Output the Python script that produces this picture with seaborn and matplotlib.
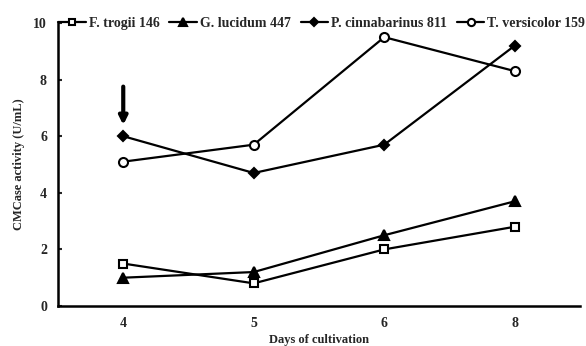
import matplotlib
matplotlib.use("Agg")
import matplotlib.pyplot as plt
import seaborn as sns
import pandas as pd

days = ["4", "5", "6", "8"]
strains = ["F. trogii 146", "G. lucidum 447", "P. cinnabarinus 811", "T. versicolor 159"]
f_trogii = [1.5, 0.8, 2.0, 2.8]
g_lucidum = [1.0, 1.2, 2.5, 3.7]
p_cinnabarinus = [6.0, 4.7, 5.7, 9.2]
t_versicolor = [5.1, 5.7, 9.5, 8.3]
y_ticks = [0, 2, 4, 6, 8, 10]

series = [f_trogii, g_lucidum, p_cinnabarinus, t_versicolor]
rows = []
for name, vals in zip(strains, series):
    for d, v in zip(days, vals):
        rows.append({"Day": d, "Activity": v, "Strain": name})
df = pd.DataFrame(rows)

sns.set_style("white")
plt.rcParams["font.family"] = ["Liberation Serif", "DejaVu Serif"]
plt.rcParams["font.weight"] = "bold"

fig = plt.figure(figsize=(5.86, 3.46), dpi=100)
ax = fig.add_axes([58/586, 1-306/346, (580-58)/586, (306-23)/346])

markers = {"F. trogii 146": "s", "G. lucidum 447": "^",
           "P. cinnabarinus 811": "D", "T. versicolor 159": "o"}
mfc = {"F. trogii 146": "white", "G. lucidum 447": "black",
       "P. cinnabarinus 811": "black", "T. versicolor 159": "white"}
msz = {"F. trogii 146": 6, "G. lucidum 447": 7,
       "P. cinnabarinus 811": 5.5, "T. versicolor 159": 6.5}

for name in strains:
    sub = df[df["Strain"] == name]
    sns.lineplot(data=sub, x="Day", y="Activity", ax=ax, color="black",
                 linewidth=1.6, marker=markers[name], markersize=msz[name],
                 markerfacecolor=mfc[name], markeredgecolor="black",
                 markeredgewidth=1.5, label=name, sort=False)

ax.set_xlim(-0.5, 3.5)
ax.set_ylim(0, 10)
ax.set_yticks(y_ticks)
ax.set_yticklabels([str(t) for t in y_ticks], fontsize=10, fontweight="bold")
ax.set_xticks(range(len(days)))
ax.set_xticklabels(days, fontsize=10, fontweight="bold")
ax.set_xticks([0.5, 1.5, 2.5, 3.5], minor=True)
ax.tick_params(axis="x", which="major", length=0, pad=8)
ax.tick_params(axis="x", which="minor", direction="in", length=4, width=1.5)
ax.tick_params(axis="y", which="major", direction="in", length=3, width=1.5, left=True, pad=8)

for s in ["top", "right"]:
    ax.spines[s].set_visible(False)
for s in ["left", "bottom"]:
    ax.spines[s].set_linewidth(1.8)
    ax.spines[s].set_color("black")

ax.set_xlabel("Days of cultivation", fontsize=9, fontweight="bold", labelpad=3)
ax.set_ylabel("CMCase activity (U/mL)", fontsize=9, fontweight="bold", labelpad=6)

ax.annotate("", xy=(0, 6.3), xytext=(0, 7.85),
            arrowprops=dict(arrowstyle="-|>", color="black", lw=3,
                            mutation_scale=12))

leg = ax.legend(loc="lower left", bbox_to_anchor=(-0.01, 0.955), ncol=4,
                frameon=False, fontsize=10, handlelength=2.0,
                handletextpad=0.2, columnspacing=0.7, borderaxespad=0,
                markerscale=0.8)
for t in leg.get_texts():
    t.set_fontweight("bold")

fig.savefig("out.png", dpi=100)
